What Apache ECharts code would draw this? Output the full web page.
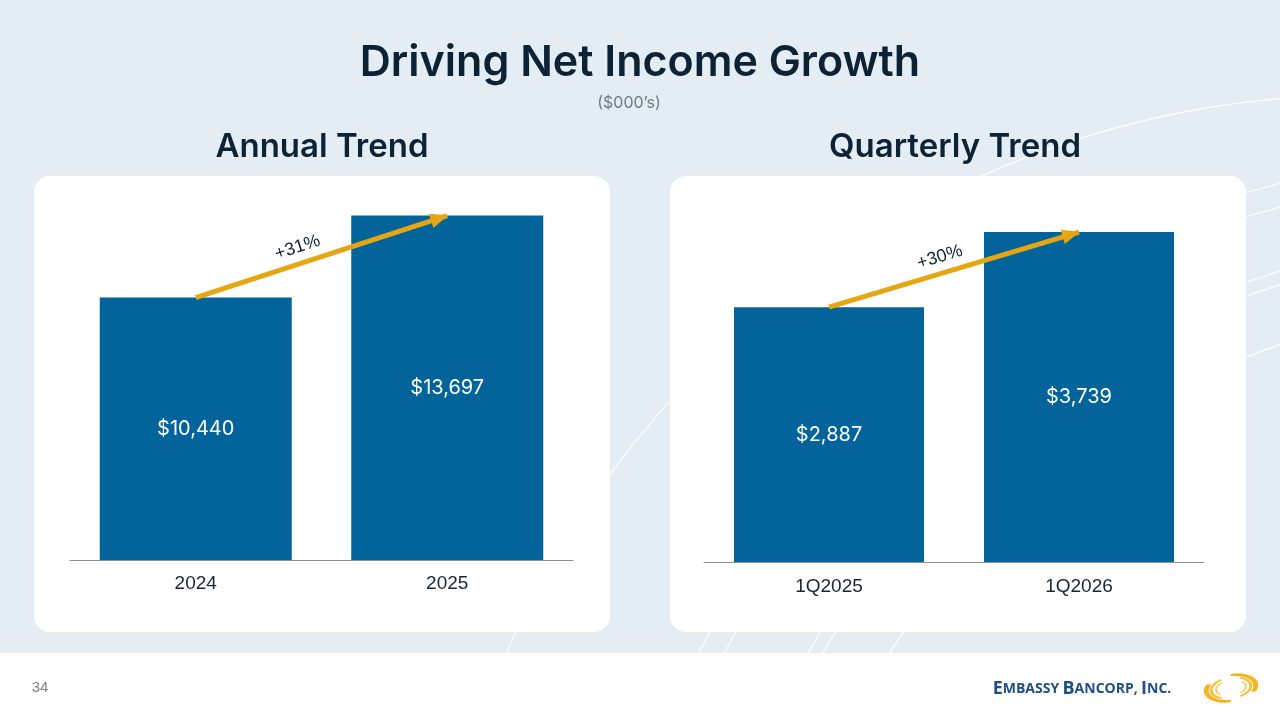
<!DOCTYPE html>
<html>
<head>
<meta charset="utf-8">
<title>Driving Net Income Growth</title>
<script src="https://cdn.jsdelivr.net/npm/echarts@6/dist/echarts.min.js"></script>
<style>
  html, body { margin: 0; padding: 0; background: #e4edf3; }
  #main { width: 1280px; height: 720px; }
</style>
</head>
<body>
<div id="main"></div>
<script>
// data ($000's)
const years = ['2024', '2025'];
const annualIncome = [10440, 13697];
const annualGrowth = '+31%';

const quarters = ['1Q2025', '1Q2026'];
const quarterlyIncome = [2887, 3739];
const quarterlyGrowth = '+30%';

const NAVY = '#0c2335';
const BAR = '#02649b';
const GOLD = '#e6a612';

const myChart = echarts.init(document.getElementById('main'), null, { renderer: 'canvas' });

// one bar series per panel, the arrow is a markLine between the two bar tops
function barSeries(data, growth, idx, width, shift) {
  return {
    type: 'bar',
    xAxisIndex: idx,
    yAxisIndex: idx,
    data: data,
    barWidth: width,
    itemStyle: { color: BAR },
    silent: true,
    label: {
      show: true,
      position: 'inside',
      color: '#ffffff',
      fontFamily: 'Inter',
      fontSize: 20,
      formatter: p => '$' + p.value.toLocaleString('en-US')
    },
    markLine: {
      silent: true,
      symbol: ['none', 'triangle'],
      symbolSize: [15, 18],
      symbolOffset: [0, [0, 8]],
      lineStyle: { color: GOLD, width: 5, type: 'solid' },
      label: {
        show: true,
        position: 'insideMiddleTop',
        distance: 7,
        formatter: growth,
        color: NAVY,
        fontFamily: 'Liberation Sans',
        fontSize: 18,
        padding: [0, shift, 0, 0]
      },
      data: [[{ coord: [0, data[0]] }, { coord: [1, data[1]] }]]
    }
  };
}

function axisX(cats, idx, margin) {
  return {
    type: 'category',
    gridIndex: idx,
    data: cats,
    z: 5,
    axisTick: { show: false },
    axisLine: { lineStyle: { color: '#8e8e8e', width: 1 } },
    axisLabel: {
      color: '#1a2630',
      fontFamily: 'Liberation Sans',
      fontSize: 19,
      margin: margin
    }
  };
}

// thin white background arcs
const arcs = [
  { cx: 1362, cy: 1030, r: 935 },
  { cx: 1500, cy: 1050, r: 894 },
  { cx: 1500, cy: 1050, r: 871 },
  { cx: 1520, cy: 1050, r: 815 },
  { cx: 1520, cy: 1050, r: 802 },
  { cx: 1520, cy: 1050, r: 745 }
].map(c => ({
  type: 'circle',
  z: 0,
  shape: c,
  style: { fill: null, stroke: '#ffffff', lineWidth: 1.3, opacity: 0.9 }
}));

function text(str, x, y, font, fill) {
  return {
    type: 'text', z: 5,
    style: { text: str, x: x, y: y, font: font, fill: fill, align: 'center', verticalAlign: 'middle' }
  };
}

function swirlArc(r, a0, a1, color, w) {
  return {
    type: 'arc', z: 6,
    shape: { cx: 0, cy: 0, r: r, startAngle: Math.PI * a0, endAngle: Math.PI * a1 },
    style: { fill: null, stroke: color, lineWidth: w, lineCap: 'round' }
  };
}

const swirl = {
  type: 'group', x: 1231, y: 688, scaleY: 0.52, rotation: 0.15, z: 6,
  children: [
    swirlArc(25, 0.55, 1.15, '#f4b522', 5),
    swirlArc(25, -0.45, 0.15, '#f4b522', 5),
    swirlArc(20, 0.7, 1.35, '#f7c23a', 3),
    swirlArc(20, -0.3, 0.35, '#f7c23a', 3),
    swirlArc(15, 0.8, 1.3, '#f9cf5a', 2),
    swirlArc(15, -0.2, 0.3, '#f9cf5a', 2)
  ]
};

const option = {
  backgroundColor: '#e4edf3',
  animation: false,
  graphic: [{
    elements: [
      ...arcs,
      { type: 'rect', z: 1, shape: { x: 34, y: 176, width: 576, height: 456, r: 16 }, style: { fill: '#ffffff' } },
      { type: 'rect', z: 1, shape: { x: 670, y: 176, width: 576, height: 456, r: 16 }, style: { fill: '#ffffff' } },
      { type: 'rect', z: 1, shape: { x: 0, y: 653, width: 1280, height: 67 }, style: { fill: '#ffffff' } },
      text('Driving Net Income Growth', 640, 63, '600 43px Inter', NAVY),
      text('($000\u2019s)', 629, 103, '16px Inter', '#6e7a86'),
      text('Annual Trend', 322, 147, '600 33px Inter', NAVY),
      text('Quarterly Trend', 955, 147, '600 33px Inter', NAVY),
      text('34', 40, 688, '15px Liberation Sans', '#808080'),
      {
        type: 'text', z: 5,
        style: {
          x: 1082, y: 689, align: 'center', verticalAlign: 'middle',
          text: '{b|E}{s|MBASSY} {b|B}{s|ANCORP,} {b|I}{s|NC.}',
          rich: {
            b: { fontFamily: 'Open Sans', fontWeight: 'bold', fontSize: 18, fill: '#1d4e86' },
            s: { fontFamily: 'Open Sans', fontWeight: 'bold', fontSize: 14, fill: '#1d4e86' }
          }
        }
      },
      swirl
    ]
  }],
  grid: [
    { left: 70, width: 503, top: 208, bottom: 160 },
    { left: 704, width: 500, top: 209, bottom: 158 }
  ],
  xAxis: [axisX(years, 0, 14), axisX(quarters, 1, 15)],
  yAxis: [
    { type: 'value', gridIndex: 0, min: 0, max: 14000, show: false, splitLine: { show: false } },
    { type: 'value', gridIndex: 1, min: 0, max: 4000, show: false, splitLine: { show: false } }
  ],
  series: [
    barSeries(annualIncome, annualGrowth, 0, 192, 40),
    barSeries(quarterlyIncome, quarterlyGrowth, 1, 190, 20)
  ]
};

myChart.setOption(option);
</script>
</body>
</html>
